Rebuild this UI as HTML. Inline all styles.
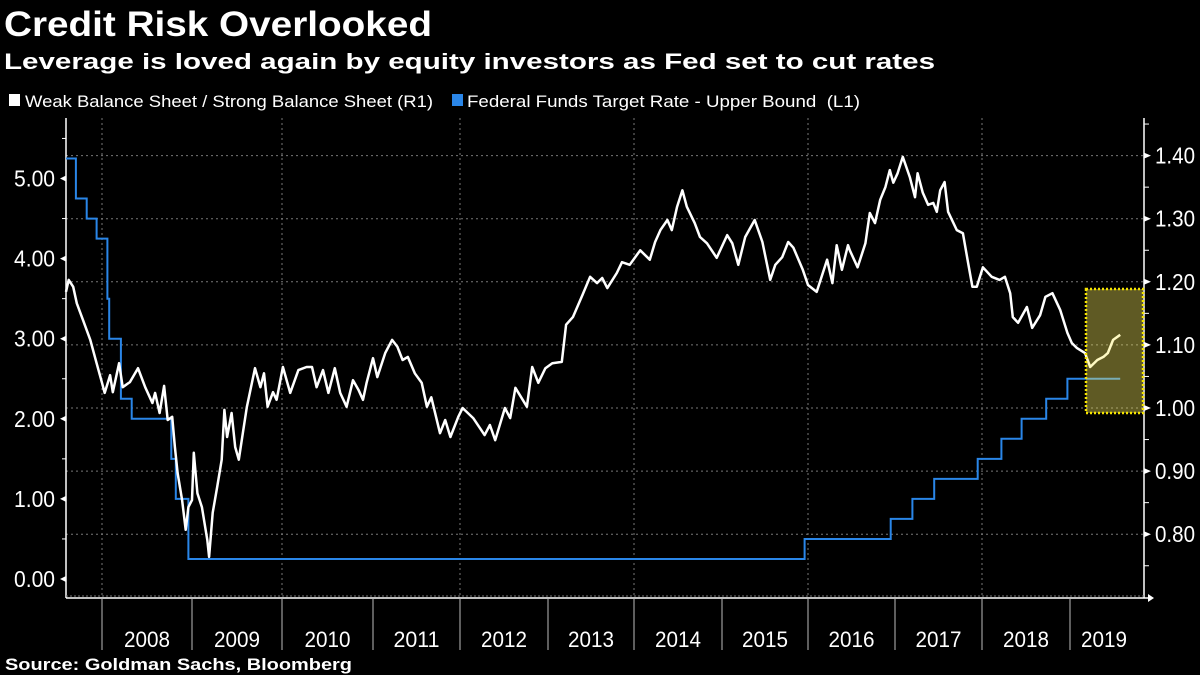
<!DOCTYPE html>
<html><head><meta charset="utf-8"><style>
html,body{margin:0;padding:0;background:#000;}
svg{display:block;font-family:"Liberation Sans",sans-serif;}
</style></head><body>
<svg id="chart" width="1200" height="675" viewBox="0 0 1200 675" xmlns="http://www.w3.org/2000/svg">
<rect width="1200" height="675" fill="#000"/>
<text x="4" y="36" fill="#fff" font-size="35" font-weight="bold" textLength="428" lengthAdjust="spacingAndGlyphs">Credit Risk Overlooked</text>
<text x="4" y="69" fill="#fff" font-size="22" font-weight="bold" textLength="931" lengthAdjust="spacingAndGlyphs">Leverage is loved again by equity investors as Fed set to cut rates</text>
<g>
<rect x="9" y="94" width="11" height="12" fill="#fff"/>
<text x="25" y="107" fill="#fff" font-size="17" textLength="408" lengthAdjust="spacingAndGlyphs">Weak Balance Sheet / Strong Balance Sheet (R1)</text>
<rect x="452" y="94" width="11" height="12" fill="#2a86e8"/>
<text x="467" y="107" fill="#fff" font-size="17" textLength="393" lengthAdjust="spacingAndGlyphs">Federal Funds Target Rate - Upper Bound&#160; (L1)</text>
</g>
<g id="grid"></g>
<g id="axes"></g>
<g id="series"></g>
<g id="overlay"></g>
<text x="5" y="670" fill="#fff" font-size="17" font-weight="bold" textLength="347" lengthAdjust="spacingAndGlyphs">Source: Goldman Sachs, Bloomberg</text>
</svg>
<script>
const ratioYears=[2007.60,2007.63,2007.68,2007.72,2007.79,2007.87,2007.94,2008.00,2008.03,2008.09,2008.12,2008.19,2008.23,2008.31,2008.40,2008.48,2008.56,2008.59,2008.64,2008.69,2008.73,2008.78,2008.81,2008.84,2008.89,2008.93,2008.96,2009.00,2009.02,2009.06,2009.11,2009.17,2009.19,2009.23,2009.28,2009.33,2009.36,2009.39,2009.44,2009.48,2009.52,2009.57,2009.61,2009.70,2009.76,2009.80,2009.84,2009.90,2009.94,2010.01,2010.09,2010.18,2010.27,2010.33,2010.38,2010.45,2010.51,2010.58,2010.64,2010.71,2010.78,2010.84,2010.89,2010.93,2011.00,2011.05,2011.14,2011.22,2011.28,2011.34,2011.40,2011.48,2011.56,2011.62,2011.67,2011.77,2011.83,2011.89,2011.98,2012.03,2012.15,2012.28,2012.34,2012.40,2012.51,2012.57,2012.63,2012.76,2012.82,2012.89,2012.97,2013.05,2013.16,2013.21,2013.29,2013.40,2013.49,2013.57,2013.63,2013.69,2013.80,2013.86,2013.95,2014.07,2014.18,2014.24,2014.30,2014.38,2014.43,2014.49,2014.55,2014.60,2014.69,2014.75,2014.83,2014.94,2015.06,2015.12,2015.19,2015.27,2015.38,2015.47,2015.56,2015.62,2015.70,2015.77,2015.83,2015.94,2016.00,2016.10,2016.22,2016.28,2016.33,2016.39,2016.46,2016.48,2016.57,2016.66,2016.71,2016.77,2016.83,2016.89,2016.94,2016.98,2017.03,2017.09,2017.17,2017.23,2017.26,2017.32,2017.38,2017.44,2017.48,2017.52,2017.57,2017.61,2017.71,2017.78,2017.84,2017.89,2017.94,2018.01,2018.11,2018.20,2018.26,2018.32,2018.35,2018.41,2018.51,2018.57,2018.66,2018.72,2018.80,2018.89,2018.97,2019.02,2019.08,2019.17,2019.23,2019.31,2019.38,2019.43,2019.49,2019.57];
const ratioValues=[1.184,1.203,1.192,1.166,1.139,1.108,1.071,1.040,1.024,1.052,1.025,1.071,1.033,1.041,1.063,1.033,1.008,1.024,0.992,1.035,0.981,0.986,0.938,0.897,0.854,0.807,0.843,0.854,0.929,0.865,0.843,0.791,0.764,0.834,0.875,0.918,0.997,0.954,0.992,0.938,0.918,0.965,1.002,1.063,1.033,1.055,1.002,1.025,1.013,1.065,1.024,1.060,1.065,1.065,1.033,1.060,1.024,1.063,1.024,1.002,1.044,1.029,1.013,1.040,1.079,1.049,1.087,1.108,1.097,1.076,1.081,1.055,1.040,1.002,1.017,0.960,0.981,0.954,0.986,1.000,0.984,0.957,0.973,0.949,1.000,0.984,1.032,1.002,1.065,1.040,1.063,1.071,1.073,1.132,1.144,1.179,1.208,1.198,1.206,1.190,1.214,1.231,1.227,1.250,1.235,1.263,1.282,1.298,1.282,1.319,1.345,1.319,1.293,1.271,1.261,1.238,1.274,1.261,1.227,1.271,1.298,1.263,1.203,1.227,1.239,1.263,1.254,1.219,1.195,1.184,1.235,1.198,1.258,1.219,1.258,1.250,1.223,1.261,1.309,1.293,1.330,1.350,1.377,1.357,1.372,1.398,1.366,1.334,1.372,1.341,1.322,1.325,1.311,1.345,1.358,1.311,1.282,1.277,1.230,1.192,1.192,1.223,1.208,1.203,1.208,1.182,1.144,1.135,1.160,1.127,1.147,1.176,1.182,1.155,1.119,1.103,1.095,1.087,1.065,1.076,1.081,1.087,1.108,1.116];
const fedDates=[2007.60,2007.71,2007.83,2007.94,2008.06,2008.08,2008.21,2008.33,2008.77,2008.82,2008.96,2015.96,2016.95,2017.20,2017.45,2017.95,2018.22,2018.45,2018.73,2018.97];
const fedRates=[5.25,4.75,4.50,4.25,3.50,3.00,2.25,2.00,1.50,1.00,0.25,0.50,0.75,1.00,1.25,1.50,1.75,2.00,2.25,2.50];
const fedEnd=2019.57;
const yearLabels=["2008","2009","2010","2011","2012","2013","2014","2015","2016","2017","2018","2019"];
const leftTicks=["0.00","1.00","2.00","3.00","4.00","5.00"];
const rightTicks=["0.80","0.90","1.00","1.10","1.20","1.30","1.40"];

const NS="http://www.w3.org/2000/svg";
const yearStartPx=[102,192,282,373,460,548,634,722,808,895,982,1070,1158];
const PL=66,PR=1144,PT=118,PB=598;
function xOf(t){const i0=Math.floor(t)-2008;let i=Math.max(0,Math.min(11,i0));const a=yearStartPx[i],b=yearStartPx[i+1];return a+(t-(2008+i))*(b-a);}
function yL(v){return 579-v*80.1;}
function yR(v){return 408-(v-1)*631;}
function mk(tag,attrs,parent){const e=document.createElementNS(NS,tag);for(const k in attrs)e.setAttribute(k,attrs[k]);parent.appendChild(e);return e;}
const grid=document.getElementById('grid'),axes=document.getElementById('axes'),series=document.getElementById('series'),overlay=document.getElementById('overlay');
rightTicks.forEach(s=>{const v=parseFloat(s);const y=yR(v);
 const g=mk('line',{x1:PL,x2:PR,y1:y,y2:y,stroke:'#777','stroke-width':1,'stroke-dasharray':'2,3'},grid);
 
 
 const t=mk('text',{x:1155,y:y+8,fill:'#fff','font-size':23,textLength:40,lengthAdjust:'spacingAndGlyphs'},axes);t.textContent=s;
 
 
 mk('path',{d:`M${PR} ${y-3}L${PR+7} ${y}L${PR} ${y+3}Z`,fill:'#fff'},axes);
});
for(let v=0.75;v<1.46;v+=0.1){const y=yR(v);mk('line',{x1:PR,x2:PR+5,y1:y,y2:y,stroke:'#fff'},axes);}
[0,2,4,6,8,10].forEach(i=>{const x=yearStartPx[i];const g=mk('line',{x1:x,x2:x,y1:PT,y2:PB,stroke:'#777','stroke-width':1,'stroke-dasharray':'2,3'},grid);
 
 });
mk('line',{x1:PL,x2:PL,y1:PT,y2:PB,stroke:'#fff','stroke-width':1.5},axes);
mk('line',{x1:PR,x2:PR,y1:PT,y2:PB,stroke:'#fff','stroke-width':1.5},axes);
leftTicks.forEach(s=>{const v=parseFloat(s),y=yL(v);
 const t=mk('text',{x:14,y:y+8,fill:'#fff','font-size':23,textLength:41,lengthAdjust:'spacingAndGlyphs'},axes);t.textContent=s;
 
 
 mk('path',{d:`M${PL} ${y-3}L${PL-6} ${y}L${PL} ${y+3}Z`,fill:'#fff'},axes);
 const ym=yL(v+0.5);if(ym>PT)mk('line',{x1:PL-4,x2:PL,y1:ym,y2:ym,stroke:'#fff'},axes);
});
mk('line',{x1:PL,x2:PR,y1:PB-2,y2:PB-2,stroke:'#777','stroke-dasharray':'2,2'},axes);
mk('line',{x1:PL,x2:PR+4,y1:PB,y2:PB,stroke:'#fff','stroke-width':1.5},axes);
mk('path',{d:`M${PR+4} ${PB-4}L${PR+10} ${PB}L${PR+4} ${PB+4}Z`,fill:'#fff'},axes);
yearLabels.forEach((s,i)=>{const a=yearStartPx[i];const b=i<11?yearStartPx[i+1]:PR;
 mk('line',{x1:a,x2:a,y1:PB,y2:650,stroke:'#bbb','stroke-width':1},axes);
 const cx=(a+b)/2+(i==11?-3:0);
 const t=mk('text',{x:cx-23,y:647,fill:'#fff','font-size':22,textLength:46,lengthAdjust:'spacingAndGlyphs'},axes);t.textContent=s;
 
 
});
let d='';fedDates.forEach((t,i)=>{const x=xOf(t),y=yL(fedRates[i]);d+=(i?`H${x.toFixed(1)}V${y.toFixed(1)}`:`M${x.toFixed(1)} ${y.toFixed(1)}`);});
d+=`H${xOf(fedEnd).toFixed(1)}`;
const fed=mk('path',{d:d,fill:'none',stroke:'#2a86e8','stroke-width':2},series);


const pd=ratioYears.map((t,i)=>(i?'L':'M')+xOf(t).toFixed(1)+' '+yR(ratioValues[i]).toFixed(1)).join('');
const rl=mk('path',{d:pd,fill:'none',stroke:'#fff','stroke-width':2.5,'stroke-linejoin':'round'},series);


const hb=mk('rect',{x:1086,y:289,width:57,height:124,fill:'rgba(253,240,96,0.375)',stroke:'#f5e400','stroke-width':2.5,'stroke-dasharray':'2,2'},overlay);


</script>
</body></html>
